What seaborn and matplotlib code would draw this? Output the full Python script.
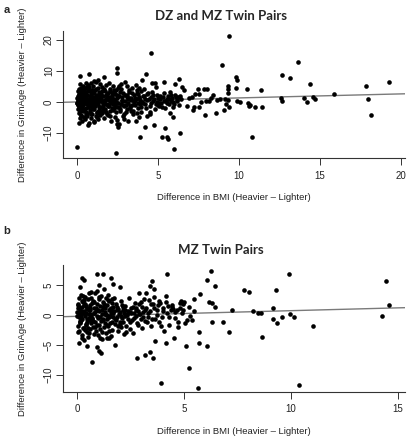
import numpy as np
import pandas as pd
import seaborn as sns
import matplotlib.pyplot as plt

# panel a: DZ and MZ twin pairs (BMI difference vs GrimAge difference)
dz_x = [0.0, 2.39, 4.55, 9.38, 8.93, 13.66, 12.63, 13.15, 14.38, 15.88,
        17.84, 19.26, 17.98, 18.13, 14.02, 14.22, 14.6, 14.7, 12.6, 12.64,
        10.78, 11.36, 11.42, 11.0, 10.51, 10.57, 10.64, 10.68, 9.81, 9.88,
        9.81, 9.9, 10.06, 9.3, 9.3, 9.32, 9.32, 9.2, 9.37, 9.07,
        9.16, 8.62, 8.58, 8.85, 8.42, 7.88, 7.84, 8.02, 7.45, 7.51,
        7.65, 7.96, 8.17, 8.25, 7.14, 7.22, 6.91, 7.1, 6.77, 7.51,
        7.28, 6.36, 6.01, 6.28, 6.07, 5.37, 5.53, 5.23, 5.64, 3.91,
        4.75, 4.22, 4.24, 4.03, 4.61, 4.79, 5.41, 5.95, 5.74, 6.46,
        6.6, 5.74, 0.19, 0.74, 2.49, 2.49, 1.65, 1.07, 1.28, 0.7,
        2.55, 2.49, 0.14,
        # dense cluster
        0.02, 0.04, 0.05, 0.07, 0.08, 0.1, 0.11, 0.12, 0.14, 0.15,
        0.16, 0.18, 0.19, 0.2, 0.21, 0.23, 0.24, 0.25, 0.27, 0.28,
        0.29, 0.3, 0.32, 0.33, 0.35, 0.36, 0.37, 0.39, 0.4, 0.41,
        0.43, 0.44, 0.45, 0.47, 0.48, 0.5, 0.51, 0.52, 0.54, 0.55,
        0.56, 0.57, 0.58, 0.6, 0.03, 0.09, 0.17, 0.26, 0.34, 0.46,
        0.62, 0.64, 0.66, 0.68, 0.7, 0.72, 0.73, 0.75, 0.77, 0.79,
        0.8, 0.82, 0.84, 0.86, 0.88, 0.9, 0.92, 0.94, 0.96, 0.98,
        1.0, 1.02, 1.04, 1.06, 1.08, 1.1, 1.12, 1.14, 1.16, 1.18,
        1.2, 1.22, 1.24, 1.26, 1.28, 1.3, 1.32, 1.34, 1.36, 1.38,
        1.4, 1.42, 1.44, 1.46, 1.48, 0.65, 0.78, 0.91, 1.03, 1.15,
        1.27, 1.39, 0.71, 0.97, 1.21,
        1.5, 1.53, 1.56, 1.6, 1.63, 1.66, 1.7, 1.73, 1.76, 1.8,
        1.83, 1.86, 1.9, 1.93, 1.96, 2.0, 2.03, 2.06, 2.1, 2.13,
        2.16, 2.2, 2.23, 2.26, 2.3, 2.33, 2.36, 2.4, 2.43, 2.46,
        2.5, 2.53, 2.56, 1.58, 1.68, 1.78, 1.88, 1.98, 2.08, 2.18,
        2.28, 2.38, 2.48, 2.58, 2.6,
        2.62, 2.66, 2.7, 2.74, 2.78, 2.82, 2.86, 2.9, 2.94, 2.98,
        3.02, 3.06, 3.1, 3.14, 3.18, 3.22, 3.26, 3.3, 3.34, 3.38,
        3.42, 3.46, 3.5, 3.54, 3.58, 3.62, 3.66, 3.7, 3.74, 3.78,
        3.82, 3.86, 3.9, 3.94, 3.98, 2.72, 2.92, 3.12, 3.32, 3.52,
        3.72, 3.92, 2.84, 3.24, 3.64,
        4.05, 4.1, 4.15, 4.2, 4.28, 4.35, 4.4, 4.48, 4.55, 4.6,
        4.68, 4.75, 4.8, 4.88, 4.95, 5.0, 5.08, 5.15, 5.2, 5.3,
        5.38, 5.45, 5.55, 5.62, 5.7, 5.8, 5.88, 5.95, 6.05, 6.15,
        6.25, 6.35, 6.42, 4.32, 5.02]
dz_y = [-14.7, -16.5, 15.7, 21.4, 11.8, 13.0, 8.6, 7.8, 5.8, 2.7,
        5.1, 6.6, 1.0, -4.3, 1.4, -0.1, 1.5, 0.9, 1.3, 0.3,
        -11.4, 3.7, -1.7, -1.5, 4.1, -0.2, -1.3, -1.0, 8.0, 7.0,
        4.4, 0.3, 0.0, 5.2, 4.1, 2.8, 0.6, -0.8, -1.5, -2.6,
        1.1, 0.6, -3.7, 1.1, 2.3, -4.2, 4.1, 4.1, 4.1, -1.7,
        -0.1, 0.4, 0.4, 1.3, -2.6, -1.5, 1.2, 1.5, -1.3, 2.6,
        2.5, -9.9, -15.1, 7.4, 5.8, 6.6, -11.3, -11.2, -12.0, -11.2,
        -7.4, -8.2, 9.0, 7.2, 6.2, 6.2, -8.4, -4.9, -3.7, 4.9,
        3.9, 3.3, 8.4, 9.0, 10.9, 9.2, 8.2, 6.8, 7.1, -7.5,
        -8.0, -7.2, -6.7,
        1.2, -2.3, 3.5, 0.4, -0.8, 4.1, -3.6, 2.2, -1.5, 0.9,
        5.8, -5.1, 1.7, -0.3, 3.0, -4.2, 0.6, 2.8, -2.0, 4.6,
        -1.1, 0.2, -6.0, 3.3, 1.5, -3.0, 5.2, -0.6, 2.4, -4.8,
        0.8, 3.9, -2.6, 1.1, -5.5, 4.4, -0.1, 2.0, -3.4, 6.0,
        0.5, -1.8, 3.1, -4.0, -0.4, 1.9, -2.9, 0.1, -1.3, 2.6,
        2.1, -4.4, 0.7, 5.5, -1.6, 3.4, -6.8, 0.3, 4.9, -2.7,
        1.4, -0.9, 6.2, -5.3, 2.5, -1.9, 0.0, 4.0, -3.8, 1.6,
        -0.5, 5.0, -2.2, 2.9, -6.4, 0.9, 3.7, -1.2, -4.6, 1.8,
        6.5, -0.2, 2.3, -3.1, 4.5, -5.6, 0.4, -1.7, 3.2, -2.5,
        1.0, 5.7, -4.1, 0.2, 2.7, -0.7, -3.3, 3.9, -6.0, 1.3,
        -0.1, -2.8, 4.2, 0.6, -4.9,
        0.8, -3.5, 4.8, -1.0, 2.0, -5.2, 0.3, 3.6, -2.4, 5.6,
        -0.6, 1.5, -4.3, 2.9, -1.4, 0.5, 4.3, -3.0, 1.2, -6.2,
        3.0, -0.8, 5.3, -2.1, 0.9, 2.6, -4.7, 0.1, 3.8, -1.6,
        -5.8, 1.8, 4.6, -2.9, -0.3, 2.2, -3.8, 6.0, 0.0, -1.9,
        3.3, -0.5, 1.4, -7.2, 5.1,
        1.9, -2.2, 4.2, -0.7, 0.6, -4.5, 2.8, -1.3, 6.3, 0.2,
        -3.2, 1.6, 5.0, -0.4, -6.1, 3.1, 0.9, -2.0, 1.4, 4.5,
        -1.0, -4.0, 2.3, 0.4, -0.9, 5.4, 1.0, -3.6, 2.6, -0.2,
        -5.0, 1.7, 0.7, 3.5, -1.7, 5.8, -5.6, 2.1, -2.8, 0.0,
        4.0, -0.6, -1.1, 1.2, -6.0,
        2.0, -0.5, 4.3, 1.1, -1.8, 0.5, 3.0, -3.9, 1.5, -0.3,
        2.4, 0.8, -2.4, 4.8, 0.0, 1.3, -1.2, 2.0, -0.5, 1.6,
        0.3, -2.1, 0.9, 1.8, -0.7, 0.2, 1.4, -1.5, 2.1, 0.6,
        1.7, 1.9, 0.8, -4.6, -0.9]

# more points inside the dense core of panel a
dz_x_core = [0.06, 0.13, 0.22, 0.31, 0.38, 0.42, 0.53, 0.59, 0.63, 0.69,
             0.74, 0.81, 0.87, 0.93, 0.99, 1.05, 1.11, 1.17, 1.23, 1.29,
             1.35, 1.41, 1.47, 1.52, 1.57, 1.62, 1.67, 1.72, 1.77, 1.82,
             1.87, 1.92, 1.97, 2.02, 2.07, 2.12, 2.17, 2.22, 2.27, 2.32,
             2.37, 2.42, 2.47, 2.52, 2.57, 2.64, 2.68, 2.76, 2.8, 2.88,
             2.96, 3.0, 3.08, 3.16, 3.2, 3.28, 3.36, 3.4, 3.48, 3.56,
             0.01, 0.07, 0.16, 0.24, 0.36, 0.44, 0.55, 0.67, 0.76, 0.85,
             0.95, 1.09, 1.19, 1.33, 1.45, 1.61, 1.75, 1.91, 2.05, 2.21,
             3.6, 3.68, 3.76, 3.85, 3.95, 4.02, 4.12, 4.22, 4.3, 4.45,
             4.52, 4.62, 4.72, 4.85, 4.92, 5.05, 5.12, 5.25, 5.35, 5.48,
             5.58, 5.68, 5.78, 5.9, 6.0, 6.1, 6.2, 6.3, 3.8, 4.5]
dz_y_core = [-1.0, 2.7, -4.5, 3.8, 0.3, -2.2, 1.3, -3.9, 4.7, 0.0,
             -1.4, 2.0, -4.0, 3.0, -2.4, 1.0, -0.9, 4.3, -3.5, 0.7,
             2.2, -1.5, -3.0, 3.4, 0.2, -2.0, 4.1, -0.8, 1.1, -3.2,
             2.6, -1.2, 0.6, -4.5, 3.5, -0.4, 1.9, -2.6, 4.0, -1.0,
             0.4, -3.3, 2.1, -0.2, -1.5, 3.2, -2.9, 1.6, 0.2, -3.9,
             2.4, -0.9, -2.4, 1.0, 3.7, -1.3, 0.5, 2.9, -3.0, 1.4,
             -0.5, 0.9, -1.7, 1.3, -0.9, 0.3, -0.2, 1.0, -0.4, 0.6,
             -1.1, 0.0, 0.8, -0.6, 1.6, -0.3, 0.5, -1.0, 1.7, 0.4,
             0.5, 3.0, -1.8, 1.2, -3.1, 0.0, 1.8, -0.8, 2.6, 0.9,
             -1.4, 3.3, 0.3, -0.6, 2.2, -0.2, 0.8, -1.7, 2.8, 0.4,
             -0.4, 1.1, 2.3, 0.0, -0.6, 1.5, 0.2, -1.1, 4.6, -3.2]

# panel b: MZ twin pairs only
mz_x = [0.69, 0.95, 1.2, 1.59, 3.93, 5.22, 5.65, 4.22, 6.28, 6.06,
        6.46, 9.91, 9.3, 7.8, 8.02, 7.26, 6.81, 6.31, 7.12, 8.63,
        6.09, 5.7, 5.7, 5.11, 4.53, 10.12, 9.95, 9.56, 9.14, 9.33,
        9.14, 8.21, 8.47, 8.6, 11.01, 10.39, 14.27, 14.42, 14.58, 6.31,
        6.43, 6.15, 5.75, 5.45, 4.86, 5.02, 2.82, 3.19, 3.43, 3.57,
        3.66, 4.16, 3.52, 3.4, 3.21, 1.12, 1.04, 0.45, 0.09, 0.95,
        1.78, 1.39, 1.5, 0.14, 0.23, 0.34, 0.58, 1.04, 1.7, 2.02,
        0.61,
        # dense cluster
        0.02, 0.04, 0.06, 0.08, 0.1, 0.12, 0.14, 0.16, 0.18, 0.2,
        0.22, 0.24, 0.26, 0.28, 0.3, 0.32, 0.34, 0.36, 0.38, 0.4,
        0.42, 0.44, 0.46, 0.48, 0.5, 0.52, 0.54, 0.56, 0.58, 0.6,
        0.62, 0.64, 0.66, 0.68, 0.7, 0.05, 0.11, 0.17, 0.23, 0.29,
        0.35, 0.41, 0.47, 0.53, 0.59, 0.65, 0.03, 0.15, 0.27, 0.39,
        0.72, 0.74, 0.76, 0.78, 0.8, 0.82, 0.84, 0.86, 0.88, 0.9,
        0.92, 0.94, 0.96, 0.98, 1.0, 1.02, 1.04, 1.06, 1.08, 1.1,
        1.12, 1.14, 1.16, 1.18, 1.2, 1.22, 1.24, 1.26, 1.28, 1.3,
        1.32, 1.34, 1.36, 1.38, 1.4, 1.42, 1.44, 1.46, 1.48, 1.5,
        1.52, 1.54, 1.56, 1.58, 1.6, 1.62, 1.64, 1.66, 1.68, 1.7,
        1.74, 1.78, 1.82, 1.86, 1.9, 1.94, 1.98, 2.02, 2.06, 2.1,
        2.14, 2.18, 2.22, 2.26, 2.3, 2.34, 2.38, 2.42, 2.46, 2.5,
        2.54, 2.58, 2.62, 2.66, 2.7, 2.74, 2.78, 2.82, 2.86, 2.9,
        2.94, 2.98, 3.02, 3.06, 3.1, 3.14, 3.18, 2.08, 2.48, 2.88,
        3.24, 3.3, 3.36, 3.42, 3.48, 3.54, 3.6, 3.66, 3.72, 3.78,
        3.84, 3.9, 3.96, 4.02, 4.08, 4.14, 4.2, 4.26, 4.32, 4.38,
        4.44, 4.5, 4.58, 4.66, 4.74, 4.82, 4.9, 4.98, 5.06, 5.14,
        5.22, 5.3, 5.38, 5.46, 3.58]
mz_y = [-7.8, 6.9, 6.9, 6.2, -11.3, -8.8, -12.1, 6.9, 7.4, 5.8,
        4.9, 6.9, 4.2, 4.1, 3.9, 0.8, -1.2, -1.2, -2.8, -3.6,
        -5.1, -4.7, -2.8, -5.2, -3.9, -0.3, 0.2, -0.3, -0.7, -1.3,
        1.2, 0.7, 0.4, 0.4, -1.8, -11.6, -0.2, 5.7, 1.6, 2.0,
        1.3, 2.1, 3.5, 2.6, 2.4, 2.2, -7.2, -6.6, -6.1, -7.2,
        -4.4, -4.6, 5.6, 4.8, 3.6, -6.4, -6.0, -5.1, -4.6, -5.3,
        -5.0, -3.9, -3.8, 4.7, 6.1, 5.9, 3.7, 5.0, 5.2, 4.6,
        1.2,
        0.5, -1.8, 1.6, -0.4, 2.9, -2.7, 0.9, -1.1, 3.4, 0.1,
        -3.3, 1.3, -0.7, 2.2, -2.1, 0.6, -4.2, 1.9, -0.2, 3.0,
        -1.5, 0.3, -2.8, 1.1, -0.9, 2.6, -3.6, 0.8, -0.5, 1.7,
        -2.4, 3.8, 0.0, -1.3, 2.0, -2.9, 1.4, -0.3, -3.9, 0.4,
        2.5, -1.7, 1.0, -2.2, 0.2, -0.8, 1.8, -1.0, 3.1, -2.5,
        -0.6, 2.4, -2.0, 1.2, 0.3, -3.1, 3.6, -1.2, 0.7, -2.6,
        1.9, -0.1, 4.0, -3.4, 0.9, -1.6, 2.7, -0.4, -2.3, 1.5,
        3.2, -1.0, 0.1, -4.0, 2.1, -0.8, 1.3, -2.0, 4.4, 0.5,
        -1.4, 2.8, -3.0, 0.0, 1.6, -0.6, 3.3, -1.9, 0.8, -2.7,
        2.3, -0.2, 1.0, -3.5, 0.4, 2.0, -1.2, 0.6, -0.4, 1.4,
        0.6, -1.5, 1.8, -0.3, -2.6, 1.0, 0.2, -1.1, 2.4, -0.5,
        0.9, -3.2, 0.3, 1.5, -1.8, 0.0, -0.7, 2.9, -2.3, 0.5,
        1.2, -0.9, -3.0, 0.4, 2.0, -0.2, 1.1, -1.4, 0.7, 3.6,
        0.1, -0.6, 1.3, -2.1, 0.5, 2.6, -1.0, -2.0, -1.2, 1.9,
        1.2, -0.4, 2.5, 0.6, -1.9, 1.8, 3.0, -0.7, 0.9, 1.6,
        -1.2, 2.0, -0.3, 1.1, -2.6, 3.2, 0.4, 1.5, -1.6, 0.8,
        1.3, 1.0, -0.5, 0.9, -2.0, 1.2, 0.3, 1.8, -1.3, -0.8,
        1.4, -0.2, -0.9, 0.6, 4.3]

# more points inside the dense core of panel b
mz_x_core = [0.01, 0.07, 0.13, 0.19, 0.25, 0.31, 0.37, 0.43, 0.49, 0.55,
             0.61, 0.67, 0.73, 0.79, 0.85, 0.91, 0.97, 1.03, 1.09, 1.15,
             1.21, 1.27, 1.33, 1.39, 1.45, 1.51, 1.57, 1.63, 1.69, 1.75,
             1.81, 1.87, 1.93, 1.99, 2.05, 2.11, 2.17, 2.23, 2.29, 2.35,
             0.09, 0.21, 0.33, 0.45, 0.57, 0.69, 0.81, 0.93, 1.05, 1.17,
             1.29, 1.41, 1.53, 1.65, 1.77, 1.89, 2.01, 2.13, 2.25, 2.41,
             2.52, 2.6, 2.68, 2.76, 2.84, 2.92, 3.0, 3.08, 3.16, 3.26,
             3.34, 3.44, 3.52, 3.62, 3.72, 3.82, 3.92, 4.04, 4.18, 4.3,
             4.42, 4.56, 4.7, 4.84, 4.96]
mz_y_core = [-0.2, 1.1, -1.4, 0.7, 2.4, -2.2, 0.2, 1.5, -0.6, -3.0,
             0.9, 2.8, -1.0, 0.4, -2.0, 1.2, -0.5, 3.0, -3.8, 0.8,
             -0.7, 1.9, 0.1, -1.6, 2.5, -0.3, 1.2, -2.5, 0.3, 2.9,
             -0.8, 1.4, -1.9, 0.5, -0.1, 1.6, -1.1, 0.9, -2.8, 0.2,
             0.3, -0.9, 1.7, -1.2, 0.1, -0.5, 2.2, -1.7, 0.6, -2.9,
             1.1, 0.0, -1.3, 2.7, -0.6, 0.8, -1.5, 1.3, -0.2, 0.7,
             0.3, 1.4, -0.5, 0.8, -1.6, 0.1, 2.2, -0.3, 0.9, -1.1,
             0.4, 1.9, -0.7, 1.2, 0.0, 2.4, -1.8, 0.6, 2.1, -0.4,
             1.7, 0.5, -1.2, 2.0, 0.8]

# fitted regression lines (intercept, slope)
dz_fit = (0.0, 0.13)
mz_fit = (-0.22, 0.094)

dz_xticks = [0, 5, 10, 15, 20]
dz_yticks = [-10, 0, 10, 20]
mz_xticks = [0, 5, 10, 15]
mz_yticks = [-10, -5, 0, 5]

sns.set_style("ticks")
plt.rcParams['font.family'] = ['Liberation Sans', 'DejaVu Sans']

fig = plt.figure(figsize=(4.07, 4.40), dpi=100)
ax1 = fig.add_axes([0.1548, 0.6409, 0.8403, 0.2886])
ax2 = fig.add_axes([0.1548, 0.1091, 0.8403, 0.2886])

panels = [
    (ax1, dz_x + dz_x_core, dz_y + dz_y_core, dz_fit, dz_xticks, dz_yticks,
     (-0.86, 20.25), (-18.1, 22.9), "DZ and MZ Twin Pairs"),
    (ax2, mz_x + mz_x_core, mz_y + mz_y_core, mz_fit, mz_xticks, mz_yticks,
     (-0.65, 15.33), (-12.83, 8.33), "MZ Twin Pairs"),
]

for ax, xs, ys, fit, xt, yt, xl, yl, title in panels:
    df = pd.DataFrame({'bmi': xs, 'grim': ys})
    ax.axline((0, fit[0]), slope=fit[1], color='#7a7a7a', lw=1.0, zorder=1)
    sns.scatterplot(data=df, x='bmi', y='grim', ax=ax, color='black', s=11,
                    linewidth=0, zorder=2)
    ax.set_xlim(*xl)
    ax.set_ylim(*yl)
    ax.set_xticks(xt)
    ax.set_yticks(yt)
    for side in ['top', 'right']:
        ax.spines[side].set_visible(False)
    for side in ['left', 'bottom']:
        ax.spines[side].set_color('#333333')
        ax.spines[side].set_linewidth(0.8)
    ax.tick_params(axis='both', length=5, width=0.7, color='#333333', labelsize=7, labelcolor='#222222')
    ax.tick_params(axis='x', pad=4)
    ax.tick_params(axis='y', pad=1.5, labelrotation=90)
    for lab in ax.get_yticklabels():
        lab.set_verticalalignment('center')
    ax.set_xlabel("Difference in BMI (Heavier \u2013 Lighter)", fontsize=6.8, color='#222222', labelpad=9)
    ax.set_ylabel("Difference in GrimAge (Heavier \u2013 Lighter)", fontsize=6.8, color='#222222', labelpad=12)
    ax.set_title(title, fontsize=9.5, fontweight='bold', family=['Lato', 'DejaVu Sans'],
                 x=0.462, pad=8)

fig.text(0.008, 0.988, 'a', fontsize=8, fontweight='bold', va='top', ha='left')
fig.text(0.008, 0.474, 'b', fontsize=8, fontweight='bold', va='center', ha='left')

fig.savefig("out.png", dpi=100)
